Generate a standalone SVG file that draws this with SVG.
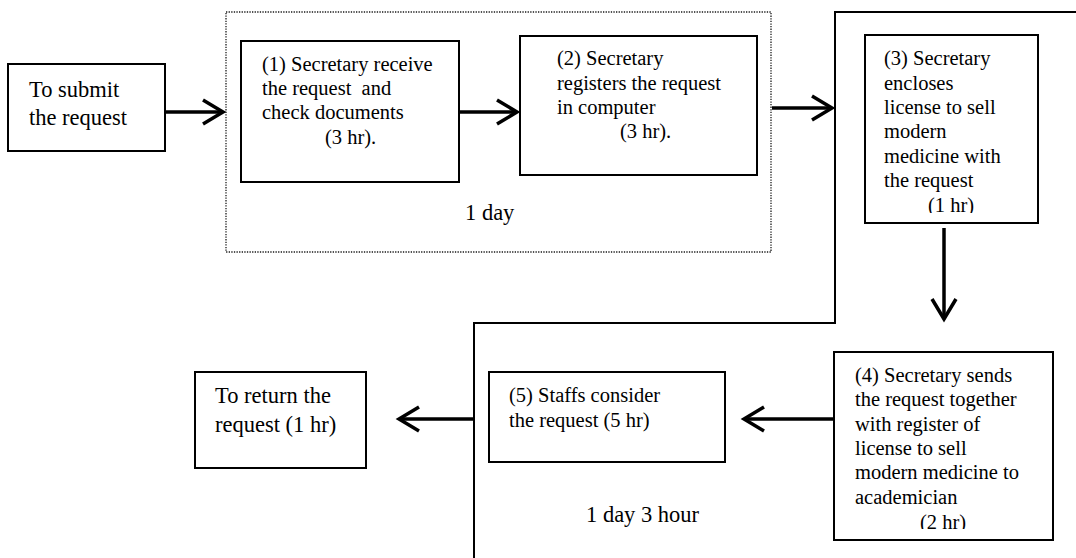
<svg xmlns="http://www.w3.org/2000/svg" width="1076" height="558" viewBox="0 0 1076 558">
  <style>
    .box { fill: #ffffff; stroke: #000000; stroke-width: 2; }
    .frame { fill: none; stroke: #000000; stroke-width: 2; }
    .group { fill: none; stroke: #1a1a1a; stroke-width: 1.3; stroke-dasharray: 1.3 1.3; }
    .conn { fill: none; stroke: #000000; stroke-width: 3.5; marker-end: url(#chev); }
    text { font-family: "Liberation Serif", "Times New Roman", serif; fill: #000000; }
    .t { font-size: 20.5px; }
    .big { font-size: 22.5px; }
  </style>
  <defs>
    <marker id="chev" markerUnits="userSpaceOnUse" markerWidth="34" markerHeight="34" viewBox="-26 -17 34 34" refX="0" refY="0" orient="auto" overflow="visible">
      <path d="M -20 -12 L 0 0 L -20 12" fill="none" stroke="#000000" stroke-width="3.5"/>
    </marker>
    <clipPath id="clip3"><rect x="866" y="36" width="171" height="177"/></clipPath>
    <clipPath id="clip4"><rect x="835" y="353" width="217" height="176"/></clipPath>
  </defs>

  <rect width="1076" height="558" fill="#ffffff"/>

  <!-- dotted frame around steps 1 and 2 -->
  <g id="day-one">
    <rect class="group" x="226" y="12" width="545" height="240"/>
    <text class="big" x="465" y="220">1 day</text>
  </g>

  <!-- solid outline around steps 3 to 5 -->
  <g id="day-two">
    <polyline class="frame" points="1076,12 835,12 835,323 474,323 474,558"/>
    <text class="big" x="586" y="522">1 day 3 hour</text>
  </g>

  <g id="submit">
    <rect class="box" x="8" y="64" width="157" height="87"/>
    <text class="big" x="29" y="97">To submit</text>
    <text class="big" x="29" y="125">the request</text>
  </g>

  <g id="step1">
    <rect class="box" x="241" y="41" width="218" height="141"/>
    <text class="t" x="262" y="71">(1) Secretary receive</text>
    <text class="t" x="262" y="95" xml:space="preserve">the request  and</text>
    <text class="t" x="262" y="119">check documents</text>
    <text class="t" x="325" y="144">(3 hr).</text>
  </g>

  <g id="step2">
    <rect class="box" x="520" y="36" width="237" height="139"/>
    <text class="t" x="557" y="65">(2) Secretary</text>
    <text class="t" x="557" y="90">registers the request</text>
    <text class="t" x="557" y="114">in computer</text>
    <text class="t" x="620" y="138">(3 hr).</text>
  </g>

  <g id="step3">
    <rect class="box" x="865" y="35" width="173" height="188"/>
    <g clip-path="url(#clip3)">
      <text class="t" x="884" y="65">(3) Secretary</text>
      <text class="t" x="884" y="90">encloses</text>
      <text class="t" x="884" y="114">license to sell</text>
      <text class="t" x="884" y="138">modern</text>
      <text class="t" x="884" y="163">medicine with</text>
      <text class="t" x="884" y="187">the request</text>
      <text class="t" x="928" y="212">(1 hr)</text>
    </g>
  </g>

  <g id="step4">
    <rect class="box" x="834" y="352" width="219" height="188"/>
    <g clip-path="url(#clip4)">
      <text class="t" x="855" y="382">(4) Secretary sends</text>
      <text class="t" x="855" y="406">the request together</text>
      <text class="t" x="855" y="431">with register of</text>
      <text class="t" x="855" y="455">license to sell</text>
      <text class="t" x="855" y="479">modern medicine to</text>
      <text class="t" x="855" y="504">academician</text>
      <text class="t" x="920" y="529">(2 hr)</text>
    </g>
  </g>

  <g id="step5">
    <rect class="box" x="489" y="372" width="236" height="90"/>
    <text class="t" x="509" y="402">(5) Staffs consider</text>
    <text class="t" x="509" y="427">the request (5 hr)</text>
  </g>

  <g id="return">
    <rect class="box" x="195" y="372" width="171" height="96"/>
    <text class="big" x="215" y="403">To return the</text>
    <text class="big" x="215" y="432">request (1 hr)</text>
  </g>

  <g id="connectors">
    <line class="conn" x1="166" y1="112" x2="223" y2="112"/>
    <line class="conn" x1="460" y1="112" x2="517" y2="112"/>
    <line class="conn" x1="772" y1="108" x2="832" y2="108"/>
    <line class="conn" x1="944" y1="228" x2="944" y2="319"/>
    <line class="conn" x1="834" y1="419" x2="744" y2="419"/>
    <line class="conn" x1="474" y1="419" x2="399" y2="419"/>
  </g>
</svg>
